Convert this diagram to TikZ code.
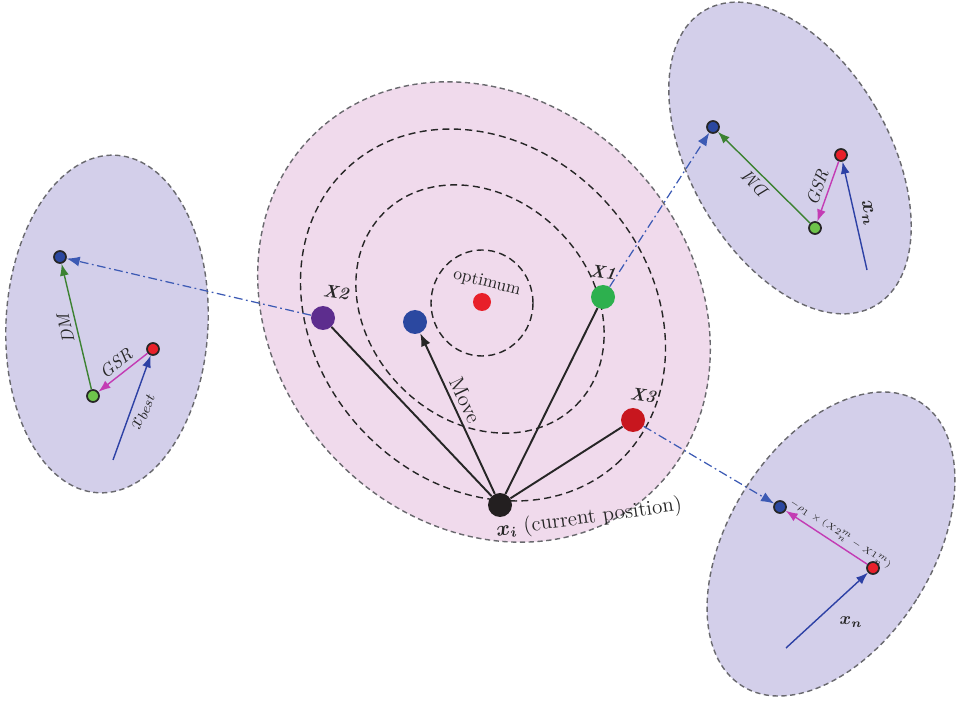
\documentclass[tikz,border=0pt]{standalone}
\usetikzlibrary{arrows.meta}

\definecolor{blobpink}{RGB}{240,218,236}
\definecolor{bloblav}{RGB}{211,207,234}
\definecolor{rimgray}{RGB}{105,105,110}
\definecolor{dotblue}{RGB}{43,72,160}
\definecolor{dotred}{RGB}{232,32,42}
\definecolor{dotgreen}{RGB}{45,176,78}
\definecolor{dotpurple}{RGB}{93,45,142}
\definecolor{dotdark}{RGB}{200,22,30}
\definecolor{dotblack}{RGB}{35,31,32}
\definecolor{litegreen}{RGB}{110,195,75}
\definecolor{arrgreen}{RGB}{60,130,50}
\definecolor{arrmagenta}{RGB}{195,60,180}
\definecolor{arrblue}{RGB}{45,65,165}
\definecolor{jumpblue}{RGB}{60,90,180}

\tikzset{
  rim/.style={draw=rimgray,line width=0.8pt,dash pattern=on 3pt off 2pt},
  contour/.style={draw=black!85,line width=0.8pt,dash pattern=on 4pt off 2.5pt},
  bigdot/.style={circle,inner sep=0pt,minimum size=4.8mm},
  smalldot/.style={circle,draw=black!85,line width=1pt,inner sep=0pt,minimum size=2.4mm},
  jump/.style={jumpblue,line width=0.7pt,dash pattern=on 5pt off 2pt on 1pt off 2pt,-{Latex[length=2.6mm,width=2mm]}},
  vec/.style={line width=0.8pt,-{Latex[length=2.4mm,width=1.8mm]}},
  ray/.style={black!85,line width=1.1pt},
  tag/.style={text=black!85,inner sep=1.5pt},
}

\providecommand{\BigDot}[3]{\node[bigdot,fill=#3] (#1) at (#2) {};}
\providecommand{\SmallDot}[3]{\node[smalldot,fill=#3] (#1) at (#2) {};}

\begin{document}
\begin{tikzpicture}[x=0.2mm,y=-0.2mm]
\useasboundingbox (0,0) rectangle (962,704);
% search space and contours
\draw[rim,fill=blobpink,rotate around={-48:(484,312)}] (484,312) ellipse [x radius=49.2mm,y radius=41.8mm];
\draw[contour,rotate around={-48:(483,315)}] (483,315) ellipse [x radius=40mm,y radius=33.4mm];
\draw[contour,rotate around={-45:(480,309)}] (480,309) ellipse [x radius=27.2mm,y radius=22.2mm];
\draw[contour] (482,303) ellipse [x radius=10.2mm,y radius=10.6mm];
% side regions
\draw[rim,fill=bloblav,rotate around={-3:(107,324)}] (107,324) ellipse [x radius=20.2mm,y radius=33.8mm];
\draw[rim,fill=bloblav,rotate around={30:(790,158)}] (790,158) ellipse [x radius=19.9mm,y radius=34.1mm];
\draw[rim,fill=bloblav,rotate around={-32:(831,544)}] (831,544) ellipse [x radius=20.4mm,y radius=33.5mm];

\BigDot{xi}{500,505}{dotblack}
\BigDot{xtwo}{323,318}{dotpurple}
\BigDot{xone}{603,297}{dotgreen}
\BigDot{xthree}{633,420}{dotdark}
\BigDot{xnew}{415,322}{dotblue}
\node[bigdot,minimum size=3.6mm,fill=dotred] (opt) at (482,302) {};
\node[tag,rotate=-14] (lopt) at (487,283) {optimum};
\node[tag,rotate=-8,font=\bfseries\itshape] (ltwo) at (336,292) {X2};
\node[tag,rotate=-8,font=\bfseries\itshape] (lone) at (603,272) {X1};
\node[tag,rotate=-8,font=\bfseries\itshape] (lthree) at (643,395) {X3};
\node[tag,rotate=8,font=\large] (lxi) at (589,518) {{\boldmath$x_i$} (current position)};

\draw[ray] (xi) -- (xtwo);
\draw[ray] (xi) -- (xone);
\draw[ray] (xi) -- (xthree);
\draw[ray,-{Latex[length=2.6mm,width=2mm]}] (xi) -- node[tag,sloped,above=1pt,pos=0.55,font=\large] (lmove) {Move} (xnew);

% left region
\SmallDot{lbblue}{60,257}{dotblue}
\SmallDot{lbred}{153,349}{dotred}
\SmallDot{lbgreen}{93,396}{litegreen}
\coordinate (lbfoot) at (113,460);
\draw[vec,arrblue] (lbfoot) -- node[tag,sloped,below=1.5pt,font=\large] (lbxb) {$x_{best}$} (lbred);
\draw[vec,arrmagenta] (lbred) -- node[tag,sloped,above=1pt,font=\itshape] (lbgsr) {GSR} (lbgreen);
\draw[vec,arrgreen] (lbgreen) -- node[tag,sloped,allow upside down,above=1pt,font=\itshape] (lbdm) {DM} (lbblue);

% upper right region
\SmallDot{rbblue}{713,127}{dotblue}
\SmallDot{rbred}{841,155}{dotred}
\SmallDot{rbgreen}{815,228}{litegreen}
\coordinate (rbfoot) at (867,270);
\draw[vec,arrblue] (rbfoot) -- node[tag,sloped,above=2pt,font=\large\boldmath] (rbxn) {$x_n$} (rbred);
\draw[vec,arrmagenta] (rbred) -- node[tag,sloped,above=1pt,font=\itshape] (rbgsr) {GSR} (rbgreen);
\draw[vec,arrgreen] (rbgreen) -- node[tag,sloped,allow upside down,above=1pt,font=\itshape] (rbdm) {DM} (rbblue);

% lower right region
\SmallDot{brblue}{780,507}{dotblue}
\SmallDot{brred}{873,568}{dotred}
\coordinate (brfoot) at (786,648);
\draw[vec,arrblue] (brfoot) -- (brred);
\node[tag,font=\boldmath] (brxn) at (851,622) {$x_n$};
\draw[vec,arrmagenta] (brred) -- node[tag,sloped,above=1pt,pos=0.4,font=\fontsize{5.5}{6}\selectfont] (brrule) {$-\rho_1\times(X2_n^m-X1_n^m)$} (brblue);

% moves into the side regions
\draw[jump] (xtwo) -- (lbblue);
\draw[jump] (xone) -- (rbblue);
\draw[jump] (xthree) -- (brblue);
\end{tikzpicture}
\end{document}
